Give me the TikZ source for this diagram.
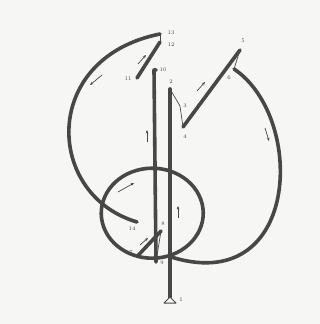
\documentclass[tikz,border=0pt]{standalone}
\usetikzlibrary{arrows.meta}
\definecolor{ink}{HTML}{474747}
\definecolor{paper}{HTML}{F6F6F4}
\begin{document}
\begin{tikzpicture}[x=1pt, y=-1pt,
    stroke/.style={draw=ink, line width=3.6pt, line cap=round, line join=round},
    hair/.style={draw=ink, line width=0.7pt, line cap=round},
    dir/.style={draw=ink, line width=0.7pt, -{Stealth[length=3.4pt, width=2.8pt]}},
    num/.style={font=\fontsize{5.5}{6}\selectfont, text=ink, inner sep=0.5pt}]

  \fill[paper] (0,0) rectangle (320,324);

  % turning points of the pen
  \coordinate (p1) at (170,297);
  \coordinate (p2) at (170,89);
  \coordinate (p3) at (180,106);
  \coordinate (p4) at (183,127);
  \coordinate (p5) at (240,50);
  \coordinate (p6) at (234,69);
  \coordinate (p8) at (161,231);
  \coordinate (p9) at (156,262);
  \coordinate (p10) at (154,70);
  \coordinate (p11) at (137,78);
  \coordinate (p12) at (160,42);
  \coordinate (p13) at (160,34);
  \coordinate (p14) at (137,222);

  \draw[stroke] (p1) -- (p2);
  \draw[hair] (p2) -- (p3) -- (p4);
  \draw[stroke] (p4) -- (p5);
  \draw[hair] (p5) -- (p6);
  \draw[stroke] (p6) .. controls (307,118) and (300,300) .. (168,256)
    arc[start angle=72, end angle=467, x radius=51, y radius=45] coordinate (p7)
    -- (p8);
  \draw[hair] (p8) -- (p9);
  \draw[stroke] (p9) -- (p10) -- ++(2,0);
  \draw[stroke] (p11) -- (p12);
  \draw[hair] (p12) -- (p13);
  \draw[stroke] (p13) .. controls (40,58) and (45,195) .. (p14);

  \draw[draw=ink, line width=1pt, fill=paper, line join=round]
    (p1) -- ++(-6,6) -- ++(12,0) -- cycle;

  \node[num] (n1) at (181,300) {1};
  \node[num] (n2) at (171,82) {2};
  \node[num] (n3) at (185,106) {3};
  \node[num] (n4) at (185,137) {4};
  \node[num] (n5) at (243,41) {5};
  \node[num] (n6) at (229,78) {6};
  \node[num] (n7) at (131,253) {7};
  \node[num] (n8) at (163,224) {8};
  \node[num] (n9) at (162,263) {9};
  \node[num] (n10) at (163,70) {10};
  \node[num] (n11) at (128,79) {11};
  \node[num] (n12) at (171,45) {12};
  \node[num] (n13) at (171,33) {13};
  \node[num] (n14) at (132,229) {14};

  % direction marks
  \draw[dir] (178,218) -- (178,206);
  \draw[dir] (197,91) -- (205,82);
  \draw[dir] (265,128) -- (269,141);
  \draw[dir] (118,192) -- (134,183);
  \draw[dir] (140,245) -- (148,238);
  \draw[dir] (147,142) -- (147,130);
  \draw[dir] (138,64) -- (146,55);
  \draw[dir] (102,75) -- (90,85);
\end{tikzpicture}
\end{document}
